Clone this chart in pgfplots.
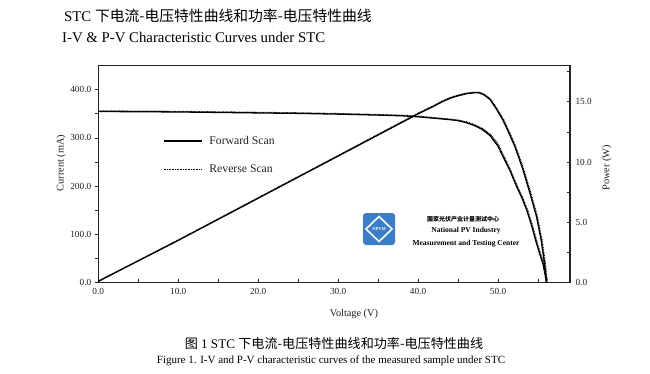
\documentclass[border=0pt]{standalone}
\usepackage{pgfplots}
\pgfplotsset{compat=1.18}
\usepackage{fontspec}
\setmainfont{Liberation Serif}
\newfontfamily\cjk{Noto Sans CJK SC}
\definecolor{logoblue}{HTML}{3A7DC9}
\definecolor{txt}{HTML}{222222}

\pgfplotstableread{
V I
0 355
5 354.5
10 354
15 353
20 352
25 351
30 349.5
35 347.5
38 346
40 344
42 341
44 338
45 336
46 332
47 326
48 318
49 305
50 283
50.6 262
51.5 232
52.3 200
53 175
53.6 150
54.2 118
54.8 82
55.2 60
55.6 40
55.9 15
56.05 0
}\ivfwd

\pgfplotstableread{
V I
0 356
5 355.5
10 355
15 354
20 353
25 352
30 350.5
35 348.5
38 347
40 345
42 342
44 339
45 337
46 333.5
47 328
48 320
49 308
50 287
50.7 263
51.6 232
52.4 200
53.1 175
53.7 150
54.3 118
54.9 82
55.3 60
55.7 40
56.0 15
56.15 0
}\ivrev

\pgfplotstableread{
V P
0 0.1
10 3.5
20 7.0
30 10.5
36 12.6
40 14.0
42 14.65
43 15.0
44 15.3
45 15.5
46 15.67
47 15.75
47.6 15.75
48.2 15.6
49 15.2
49.8 14.4
50.6 13.5
51.3 12.5
52.1 11.3
53.1 9.4
54 7.4
54.8 5.5
55.4 3.5
55.8 1.6
56.05 0
}\pvfwd

\pgfplotstableread{
V P
0 0.1
10 3.52
20 7.03
30 10.54
36 12.65
40 14.05
42 14.7
43 15.05
44 15.35
45 15.55
46 15.72
47 15.8
47.6 15.8
48.2 15.66
49 15.27
49.8 14.5
50.7 13.5
51.4 12.5
52.2 11.3
53.2 9.4
54.1 7.4
54.9 5.5
55.5 3.5
55.9 1.6
56.15 0
}\pvrev

\begin{document}
\begin{tikzpicture}[x=1pt,y=1pt]
\path[use as bounding box] (0,0) rectangle (650,-374);

% Left axis: current
\begin{axis}[
  at={(98.3pt,-282.5pt)}, anchor=south west,
  scale only axis, width=471.7pt, height=216.8pt,
  xmin=0, xmax=59, ymin=0, ymax=450,
  xtick=\empty,
  ytick={0,100,200,300,400},
  minor ytick={50,150,250,350},
  ytick pos=left,
  tick align=outside,
  major tick length=3.5pt, minor tick length=3.5pt,
  axis line style={line width=1.1pt, txt},
  every tick/.style={line width=0.8pt, txt},
  yticklabel style={font=\fontsize{9.3}{10}\selectfont, text=txt},
  /pgf/number format/fixed, /pgf/number format/fixed zerofill, /pgf/number format/precision=1,
  /pgf/number format/assume math mode=true,
  ylabel={Current (mA)},
  ylabel style={at={(axis description cs:-0.079,0.55)}, anchor=center,
    font=\fontsize{10.3}{11}\selectfont, text=txt},
  legend style={at={(axis description cs:0.137,0.685)}, anchor=north west,
    draw=none, fill=none, inner sep=0pt, row sep=15pt,
    font=\fontsize{11.7}{12}\selectfont, text=txt,
    nodes={inner sep=2pt}},
  legend cell align=left,
  legend image code/.code={\draw[#1] (0pt,0pt) -- (38pt,0pt);},
]
\addplot[black, line width=1.3pt] table[x=V,y=I] {\ivfwd};
\addlegendentry{\hspace{5pt}Forward Scan}
\addplot[black, line width=1.3pt, dash pattern=on 0.8pt off 0.8pt] table[x=V,y=I] {\ivrev};
\addlegendentry{\hspace{5pt}Reverse Scan}
\end{axis}

% Right axis: power
\begin{axis}[
  at={(98.3pt,-282.5pt)}, anchor=south west,
  scale only axis, width=471.7pt, height=216.8pt,
  xmin=0, xmax=59, ymin=0, ymax=18,
  axis x line*=bottom, axis y line*=right,
  xtick={0,10,20,30,40,50},
  minor xtick={5,15,25,35,45,55},
  ytick={0,5,10,15},
  minor ytick={2.5,7.5,12.5,17.5},
  tick align=inside,
  major tick length=3.5pt, minor tick length=3.5pt,
  axis line style={line width=1.1pt, txt, -},
  every tick/.style={line width=0.8pt, txt},
  ticklabel style={font=\fontsize{9.3}{10}\selectfont, text=txt},
  /pgf/number format/fixed, /pgf/number format/fixed zerofill, /pgf/number format/precision=1,
  /pgf/number format/assume math mode=true,
  xticklabel style={yshift=-2pt},
  yticklabel style={xshift=2pt},
  xlabel={Voltage (V)},
  xlabel style={at={(axis description cs:0.542,-0.145)}, anchor=center,
    font=\fontsize{10.3}{11}\selectfont, text=txt},
  ylabel={Power (W)},
  ylabel style={at={(axis description cs:1.078,0.53)}, anchor=center,
    font=\fontsize{10.3}{11}\selectfont, text=txt},
]
\addplot[black, line width=1.3pt] table[x=V,y=P] {\pvfwd};
\addplot[black, line width=1.3pt, dash pattern=on 0.8pt off 0.8pt] table[x=V,y=P] {\pvrev};
\end{axis}

% Logo
\fill[logoblue, rounded corners=3pt] (363,-213) rectangle (395,-245);
\draw[white, line width=1.6pt] (379,-216.5) -- (392,-229) -- (379,-241.5) -- (366,-229) -- cycle;
\node[text=white, font=\fontsize{4.5}{5}\selectfont\bfseries, inner sep=0pt] at (379,-229) {NPVM};
\node[font=\fontsize{6}{7}\selectfont\cjk\bfseries, text=black, inner sep=0pt] at (463,-219.5) {国家光伏产业计量测试中心};
\node[font=\fontsize{7.5}{8}\selectfont\bfseries, text=black, inner sep=0pt] at (466,-231) {National PV Industry};
\node[font=\fontsize{7.5}{8}\selectfont\bfseries, text=black, inner sep=0pt] at (466,-243.5) {Measurement and Testing Center};

% Titles
\node[anchor=west, font=\fontsize{14.8}{16}\selectfont, text=black, inner sep=0pt] at (64,-15.5) {STC {\cjk 下电流-电压特性曲线和功率-电压特性曲线}};
\node[anchor=west, font=\fontsize{14.8}{16}\selectfont, text=black, inner sep=0pt] at (62,-37.5) {I-V \& P-V Characteristic Curves under STC};

% Captions
\node[font=\fontsize{13.1}{14}\selectfont, text=black, inner sep=0pt] at (334,-343) {{\cjk 图} 1 STC {\cjk 下电流-电压特性曲线和功率-电压特性曲线}};
\node[font=\fontsize{11}{12}\selectfont, text=black, inner sep=0pt] at (331,-360.5) {Figure 1. I-V and P-V characteristic curves of the measured sample under STC};
\end{tikzpicture}
\end{document}
